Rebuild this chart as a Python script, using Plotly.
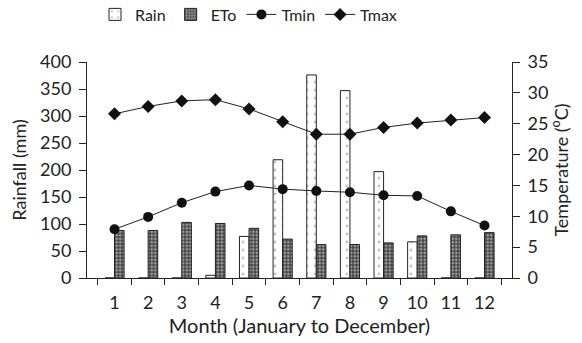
import plotly.graph_objects as go

months = [str(i) for i in range(1, 13)]
rain = [0, 0, 0, 5, 77, 219, 376, 347, 197, 67, 0, 0]
eto = [88, 88, 103, 101, 92, 72, 62, 62, 65, 78, 80, 84]
tmin = [7.9, 9.9, 12.2, 14.0, 15.0, 14.4, 14.1, 13.9, 13.4, 13.3, 10.8, 8.5]
tmax = [26.6, 27.8, 28.7, 28.9, 27.4, 25.3, 23.3, 23.3, 24.4, 25.1, 25.6, 26.0]

FONT = "Lato"

fig = go.Figure()
fig.add_trace(go.Bar(
    x=months, y=rain, name="Rain", yaxis="y",
    marker=dict(color="white", line=dict(color="#222", width=1),
                pattern=dict(shape=".", fgcolor="#888", bgcolor="white", size=8, solidity=0.1)),
))
fig.add_trace(go.Bar(
    x=months, y=eto, name="ETo", yaxis="y",
    marker=dict(color="#444", line=dict(color="#222", width=1),
                pattern=dict(shape=".", fgcolor="white", bgcolor="#444", size=3.5, solidity=0.45)),
))
fig.add_trace(go.Scatter(
    x=months, y=tmin, name="Tmin", yaxis="y2", mode="lines+markers",
    line=dict(color="#222", width=1), marker=dict(symbol="circle", size=10, color="#111"),
))
fig.add_trace(go.Scatter(
    x=months, y=tmax, name="Tmax", yaxis="y2", mode="lines+markers",
    line=dict(color="#222", width=1), marker=dict(symbol="diamond", size=10, color="#111"),
))

fig.update_layout(
    width=582, height=343,
    margin=dict(l=87, r=70, t=62, b=65, autoexpand=False),
    paper_bgcolor="white", plot_bgcolor="white",
    font=dict(family=FONT, size=18, color="#222"),
    barmode="group", bargap=0.43, bargroupgap=0,
    showlegend=True,
    legend=dict(orientation="h", x=0.38, xanchor="center", y=1.22, yanchor="middle",
                font=dict(size=16), traceorder="normal",
                bgcolor="rgba(0,0,0,0)"),
    xaxis=dict(type="category", tickson="boundaries", ticks="outside", ticklen=6,
               tickcolor="#222", showline=True, linecolor="#222", linewidth=1,
               showgrid=False, ticklabelstandoff=8, automargin=False,
               title=dict(text="Month (January to December)", font=dict(size=20), standoff=6)),
    yaxis=dict(range=[0, 400], dtick=50, ticks="outside", ticklen=7, tickcolor="#222",
               showline=True, linecolor="#222", linewidth=1, showgrid=False, zeroline=False,
               automargin=False, ticklabelstandoff=4,
               title=dict(text="Rainfall (mm)", font=dict(size=18), standoff=8)),
    yaxis2=dict(range=[0, 35], dtick=5, overlaying="y", side="right", ticks="outside",
                ticklen=7, tickcolor="#222", showline=True, linecolor="#222", linewidth=1,
                showgrid=False, zeroline=False, automargin=False, ticklabelstandoff=4,
                title=dict(text="Temperature (<sup>o</sup>C)", font=dict(size=18), standoff=6)),
)

fig.write_html("out.html")
